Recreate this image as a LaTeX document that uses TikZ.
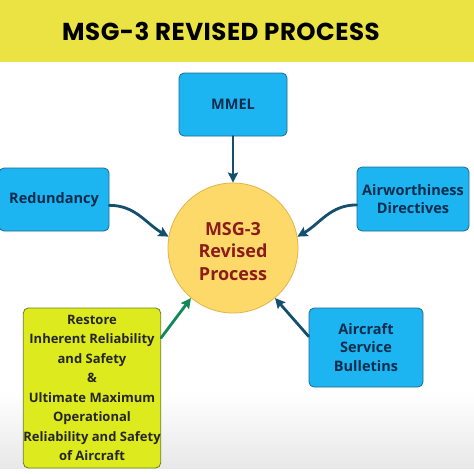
\documentclass[tikz,border=0pt]{standalone}
\usepackage{fontspec}
\usepackage{tikz}
\usetikzlibrary{arrows.meta}

\newfontfamily\titlefont{Poppins}[LetterSpace=2]
\newfontfamily\labelfont{Open Sans}

\definecolor{barYellow}{HTML}{EBE244}
\definecolor{boxBlue}{HTML}{1CB5F2}
\definecolor{boxEdge}{HTML}{1F6A8E}
\definecolor{boxInk}{HTML}{0E2C4C}
\definecolor{hubFill}{HTML}{FDD969}
\definecolor{hubEdge}{HTML}{E2B449}
\definecolor{hubInk}{HTML}{8E1B1B}
\definecolor{goalFill}{HTML}{DDEA1E}
\definecolor{goalEdge}{HTML}{6E7D22}
\definecolor{arrowTeal}{HTML}{144F6E}
\definecolor{arrowGreen}{HTML}{11875A}

\begin{document}
\begin{tikzpicture}[
  x=1pt, y=-1pt,
  >={Stealth[length=10pt,width=10pt,inset=1.5pt]},
  line cap=round,
  line join=round,
  bluebox/.style={draw=boxEdge, line width=0.8pt, fill=boxBlue,
    rounded corners=5pt, align=center, text=boxInk,
    font=\labelfont\bfseries\fontsize{14.5}{18.5}\selectfont},
  goalbox/.style={draw=goalEdge, line width=0.8pt, fill=goalFill,
    rounded corners=5pt, align=center, text=black!85,
    font=\labelfont\bfseries\fontsize{13}{19.5}\selectfont,
    inner sep=0pt},
  hub/.style={circle, draw=hubEdge, line width=0.8pt, fill=hubFill,
    minimum size=130, align=center, text=hubInk,
    font=\labelfont\bfseries\fontsize{18}{22.5}\selectfont},
  feed/.style={->, draw=arrowTeal, line width=2.8pt},
  goalfeed/.style={->, draw=arrowGreen, line width=2.8pt}
]
  \useasboundingbox (0,0) rectangle (474,474);

  % background: title bar and grey band at the bottom
  \fill[white] (0,0) rectangle (474,474);
  \shade[top color=white, bottom color=black!9] (0,392) rectangle (474,468);
  \fill[barYellow] (0,0) rectangle (474,62);
  \node[font=\titlefont\bfseries\fontsize{24.5}{28}\selectfont]
    (title) at (221,31) {MSG-3 REVISED PROCESS};

  % central circle
  \node[hub] (msg) at (233,248) {};
  \node[hub, draw=none, fill=none] (msgtext) at (233,251.5) {MSG-3\\Revised\\Process};

  % input boxes
  \node[bluebox, minimum width=108, minimum height=63] (mmel) at (233,104.5) {MMEL};
  \node[bluebox, minimum width=110, minimum height=63] (redundancy) at (54,199.5) {Redundancy};
  \node[bluebox, minimum width=112, minimum height=64] (ad) at (413,199) {Airworthiness\\Directives};
  \node[bluebox, minimum width=114, minimum height=79] (asb) at (366,347.5) {Aircraft\\Service\\Bulletins};
  \node[goalbox, minimum width=132, minimum height=160] (restore) at (92,388)
    {Restore\\Inherent Reliability\\and Safety\\\&\\Ultimate Maximum\\Operational\\Reliability and Safety\\of Aircraft};

  % arrows into the circle
  \draw[feed] (mmel) -- (msg.90);
  \draw[feed] (redundancy.-6) to[out=0, in=150] (msg.170);
  \draw[feed] (ad.186) to[out=180, in=30] (msg.10);
  \draw[feed] (asb.169) -- (msg.310);
  \draw[goalfeed] (restore.36) -- (msg.230);
\end{tikzpicture}
\end{document}
